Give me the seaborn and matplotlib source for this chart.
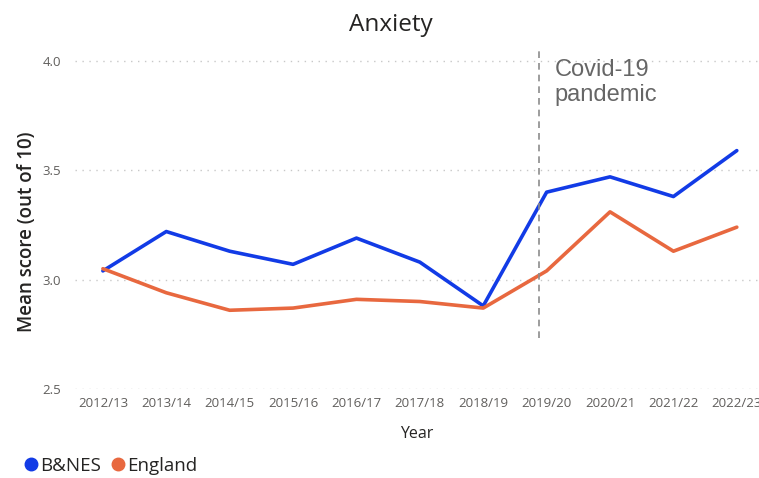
import matplotlib
matplotlib.use('Agg')

import matplotlib.pyplot as plt
import pandas as pd
import seaborn as sns

years = ["2012/13", "2013/14", "2014/15", "2015/16", "2016/17", "2017/18",
         "2018/19", "2019/20", "2020/21", "2021/22", "2022/23"]
banes = [3.04, 3.22, 3.13, 3.07, 3.19, 3.08, 2.88, 3.40, 3.47, 3.38, 3.59]
england = [3.05, 2.94, 2.86, 2.87, 2.91, 2.90, 2.87, 3.04, 3.31, 3.13, 3.24]

df = pd.DataFrame({
    "Year": years * 2,
    "Score": banes + england,
    "Area": ["B&NES"] * len(years) + ["England"] * len(years),
})

sns.set_style("white")
plt.rcParams['font.family'] = ['Open Sans', 'DejaVu Sans']

fig = plt.figure(figsize=(7.59, 4.78), dpi=100)
ax = fig.add_axes([75 / 759, 1 - 389 / 478, 1 - 75 / 759, (389 - 50) / 478])

palette = {"B&NES": "#123be6", "England": "#e8683f"}
sns.lineplot(data=df, x="Year", y="Score", hue="Area", palette=palette,
             linewidth=2.6, sort=False, legend=False, ax=ax)

ax.set_xlim(-0.44, 10.35)
ax.set_ylim(2.5, 4.05)
ax.set_yticks([2.5, 3.0, 3.5, 4.0])
ax.set_yticklabels(["2.5", "3.0", "3.5", "4.0"])
ax.yaxis.grid(True, linestyle=(0, (1, 4)), color="#c8c8c8", linewidth=1)
ax.xaxis.grid(False)
for s in ax.spines.values():
    s.set_visible(False)
ax.tick_params(axis="both", length=0, labelsize=9.5, labelcolor="#605e5c")
ax.tick_params(axis="x", pad=6)
ax.tick_params(axis="y", pad=10)

ax.set_xlabel("Year", fontsize=11.5, color="#252423", labelpad=11)
ax.set_ylabel("Mean score (out of 10)", fontsize=13.5, color="#252423",
              fontweight="semibold")
ax.yaxis.set_label_coords(-0.056, 0.463)

# Covid-19 marker
ax.plot([6.88, 6.88], [2.735, 4.05], linestyle=(0, (4, 3)), color="#8c8c8c",
        linewidth=1.2)
ax.text(7.13, 4.01, "Covid-19\npandemic", fontsize=17, color="#666666",
        va="top", ha="left", family=["Liberation Sans", "DejaVu Sans"],
        linespacing=1.2)

fig.text(391 / 759, 1 - 25 / 478, "Anxiety", fontsize=17.5, color="#252423",
         ha="center", va="center")

# legend
handles = [plt.Line2D([], [], marker="o", linestyle="", markersize=9,
                      color=palette[k]) for k in palette]
fig.legend(handles, list(palette), loc="center left",
           bbox_to_anchor=(12 / 759, 1 - 466 / 478), ncol=2, frameon=False,
           fontsize=13.5, handletextpad=-0.5, columnspacing=-0.1,
           labelcolor="#252423", borderaxespad=0, borderpad=0)

fig.savefig("out.png", dpi=100)
